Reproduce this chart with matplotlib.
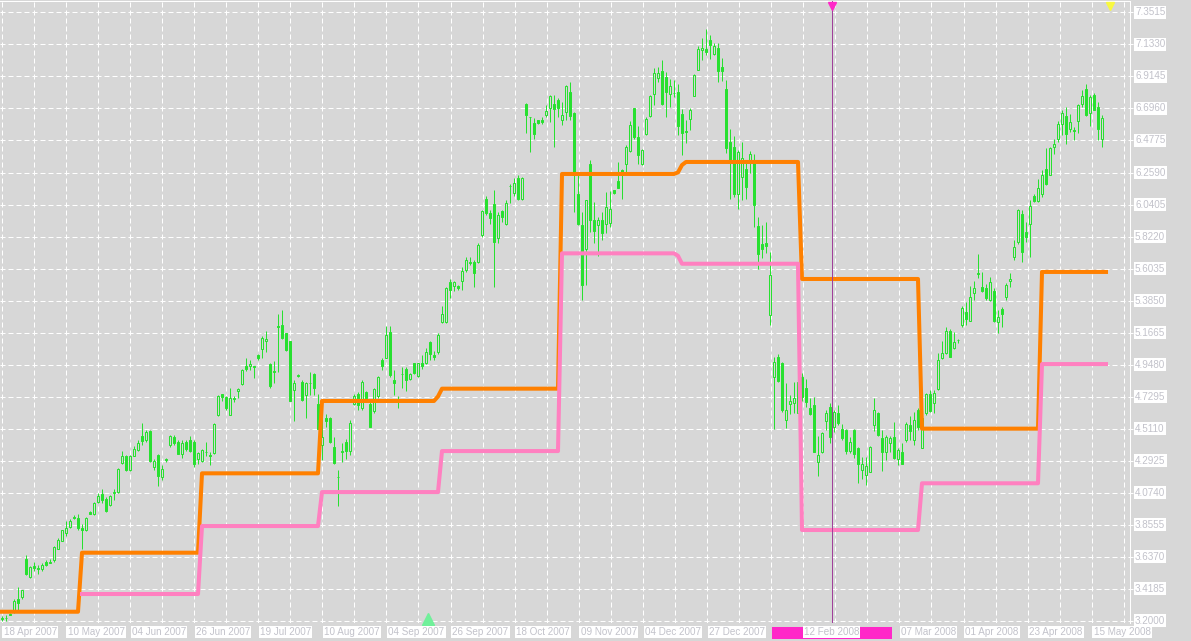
import numpy as np
import matplotlib.pyplot as plt
from matplotlib.transforms import blended_transform_factory
from matplotlib.patches import Rectangle

plt.rcParams['font.family'] = ['Liberation Sans', 'DejaVu Sans']

# daily candles, one per bar
opens = [3.21, 3.215, 3.245, 3.255, 3.345, 3.36, 3.62, 3.495, 3.57, 3.56,
         3.55, 3.60, 3.595, 3.61, 3.69, 3.746, 3.80, 3.84, 3.91, 3.90,
         3.83, 3.82, 3.94, 3.93, 4.01, 4.065, 4.03, 3.99, 4.07, 4.075,
         4.275, 4.32, 4.225, 4.325, 4.365, 4.463, 4.43, 4.497, 4.25, 4.33,
         4.18, 4.295, 4.395, 4.45, 4.42, 4.34, 4.42, 4.43, 4.42, 4.30,
         4.29, 4.35, 4.33, 4.345, 4.60, 4.745, 4.725, 4.60, 4.71, 4.77,
         4.815, 4.94, 4.94, 4.935, 5.01, 5.055, 5.11, 4.95, 4.90, 5.21,
         5.215, 5.16, 5.11, 4.773, 4.87, 4.83, 4.74, 4.82, 4.88, 4.68,
         4.395, 4.58, 4.58, 4.385, 4.18, 4.35, 4.42, 4.36, 4.68, 4.75,
         4.65, 4.76, 4.68, 4.63, 4.73, 4.98, 4.995, 5.17, 4.84, 4.70,
         4.88, 4.92, 4.85, 4.955, 4.87, 4.96, 4.96, 5.10, 5.015, 5.03,
         5.235, 5.24, 5.51, 5.485, 5.485, 5.52, 5.59, 5.64, 5.645, 5.65,
         5.83, 6.077, 5.98, 6.045, 5.81, 5.995, 5.905, 6.165, 6.12, 6.22,
         6.075, 6.73, 6.635, 6.60, 6.615, 6.62, 6.65, 6.70, 6.73, 6.757,
         6.617, 6.673, 6.81, 6.666, 6.11, 5.90, 5.74, 6.32, 5.938, 5.90,
         5.934, 5.906, 5.917, 6.138, 6.20, 6.275, 6.316, 6.405, 6.696, 6.498,
         6.32, 6.525, 6.646, 6.798, 6.907, 6.95, 6.91, 6.794, 6.80, 6.81,
         6.657, 6.54, 6.621, 6.782, 6.962, 7.097, 7.10, 7.163, 7.067, 7.112,
         6.976, 6.832, 6.468, 6.434, 6.115, 6.225, 6.28, 6.343, 6.343, 5.897,
         5.77, 5.78, 5.285, 4.86, 5.00, 4.96, 4.57, 4.681, 4.686, 4.618,
         4.863, 4.79, 4.652, 4.67, 4.284, 4.352, 4.561, 4.659, 4.518, 4.62,
         4.511, 4.50, 4.359, 4.50, 4.375, 4.231, 4.192, 4.215, 4.538, 4.614,
         4.443, 4.352, 4.409, 4.454, 4.30, 4.352, 4.431, 4.534, 4.431, 4.636,
         4.375, 4.618, 4.75, 4.682, 4.78, 4.993, 5.027, 5.177, 5.064, 5.112,
         5.221, 5.307, 5.246, 5.433, 5.567, 5.478, 5.467, 5.387, 5.45, 5.239,
         5.33, 5.41, 5.52, 5.679, 5.786, 5.975, 5.854, 5.904, 6.097, 6.066,
         6.109, 6.286, 6.245, 6.43, 6.49, 6.593, 6.644, 6.559, 6.548, 6.612,
         6.73, 6.826, 6.668, 6.787, 6.703, 6.491]
highs = [3.23, 3.235, 3.25, 3.345, 3.43, 3.41, 3.65, 3.57, 3.60, 3.58,
         3.59, 3.61, 3.62, 3.71, 3.76, 3.82, 3.88, 3.89, 3.92, 3.93,
         3.86, 3.91, 3.95, 4.01, 4.07, 4.10, 4.04, 4.06, 4.10, 4.24,
         4.36, 4.33, 4.33, 4.39, 4.43, 4.55, 4.50, 4.50, 4.30, 4.34,
         4.26, 4.31, 4.47, 4.47, 4.43, 4.43, 4.43, 4.46, 4.43, 4.35,
         4.37, 4.42, 4.35, 4.55, 4.74, 4.75, 4.73, 4.79, 4.73, 4.79,
         4.92, 4.99, 4.98, 4.94, 5.02, 5.145, 5.18, 4.96, 4.97, 5.29,
         5.32, 5.165, 5.11, 4.84, 4.885, 4.84, 4.83, 4.90, 4.89, 4.75,
         4.59, 4.61, 4.59, 4.45, 4.23, 4.41, 4.44, 4.57, 4.75, 4.76,
         4.84, 4.765, 4.69, 4.79, 4.87, 4.99, 5.21, 5.21, 4.91, 4.73,
         4.93, 4.93, 4.89, 4.96, 4.96, 5.01, 5.06, 5.11, 5.04, 5.16,
         5.35, 5.48, 5.53, 5.52, 5.49, 5.615, 5.685, 5.68, 5.66, 5.78,
         6.00, 6.10, 6.00, 6.14, 5.99, 6.00, 6.07, 6.18, 6.22, 6.24,
         6.23, 6.735, 6.64, 6.63, 6.62, 6.64, 6.72, 6.785, 6.785, 6.765,
         6.74, 6.855, 6.88, 6.67, 6.25, 5.99, 6.07, 6.344, 6.06, 5.956,
         5.99, 6.127, 6.134, 6.14, 6.33, 6.28, 6.45, 6.61, 6.70, 6.575,
         6.42, 6.64, 6.787, 6.97, 6.98, 7.026, 6.946, 6.90, 6.894, 6.866,
         6.69, 6.616, 6.70, 6.93, 7.12, 7.174, 7.24, 7.197, 7.144, 7.144,
         7.044, 6.89, 6.553, 6.507, 6.411, 6.468, 6.343, 6.407, 6.388, 5.956,
         5.90, 5.92, 5.717, 5.00, 5.023, 4.966, 4.82, 4.74, 4.83, 4.886,
         4.89, 4.85, 4.72, 4.727, 4.458, 4.488, 4.636, 4.682, 4.64, 4.67,
         4.545, 4.511, 4.454, 4.511, 4.386, 4.318, 4.318, 4.39, 4.716, 4.625,
         4.50, 4.466, 4.459, 4.556, 4.375, 4.413, 4.556, 4.596, 4.625, 4.648,
         4.59, 4.756, 4.773, 4.773, 5.027, 5.107, 5.205, 5.193, 5.17, 5.125,
         5.346, 5.375, 5.483, 5.52, 5.70, 5.58, 5.50, 5.546, 5.467, 5.319,
         5.342, 5.506, 5.57, 5.797, 6.013, 6.002, 5.922, 6.07, 6.115, 6.218,
         6.275, 6.423, 6.43, 6.49, 6.61, 6.685, 6.707, 6.657, 6.571, 6.73,
         6.82, 6.862, 6.787, 6.80, 6.742, 6.65]
lows = [3.20, 3.195, 3.235, 3.25, 3.26, 3.35, 3.51, 3.49, 3.54, 3.52,
        3.54, 3.575, 3.595, 3.60, 3.685, 3.74, 3.78, 3.83, 3.89, 3.82,
        3.69, 3.81, 3.925, 3.92, 4.00, 4.00, 3.94, 3.98, 4.02, 4.07,
        4.27, 4.22, 4.22, 4.32, 4.36, 4.395, 4.42, 4.28, 4.23, 4.12,
        4.16, 4.28, 4.385, 4.40, 4.335, 4.31, 4.36, 4.35, 4.25, 4.27,
        4.28, 4.32, 4.265, 4.34, 4.595, 4.70, 4.64, 4.60, 4.69, 4.72,
        4.81, 4.905, 4.91, 4.855, 4.98, 4.995, 5.03, 4.79, 4.82, 4.895,
        5.125, 5.04, 4.70, 4.565, 4.86, 4.70, 4.585, 4.74, 4.74, 4.51,
        4.295, 4.52, 4.41, 4.27, 3.985, 4.28, 4.30, 4.33, 4.67, 4.64,
        4.64, 4.71, 4.52, 4.62, 4.72, 4.91, 4.99, 4.86, 4.74, 4.65,
        4.79, 4.77, 4.84, 4.885, 4.86, 4.92, 4.95, 4.98, 4.98, 5.02,
        5.23, 5.23, 5.40, 5.45, 5.46, 5.46, 5.58, 5.63, 5.48, 5.64,
        5.82, 5.97, 5.91, 5.475, 5.78, 5.92, 5.90, 6.05, 6.10, 6.07,
        6.07, 6.53, 6.40, 6.485, 6.59, 6.59, 6.64, 6.605, 6.435, 6.64,
        6.58, 6.62, 6.62, 5.99, 5.90, 5.387, 5.49, 5.854, 5.78, 5.69,
        5.797, 5.843, 5.884, 6.11, 6.15, 6.075, 6.26, 6.40, 6.49, 6.316,
        6.31, 6.514, 6.64, 6.72, 6.88, 6.72, 6.635, 6.707, 6.776, 6.514,
        6.377, 6.46, 6.548, 6.78, 6.957, 7.026, 7.06, 7.037, 7.06, 6.878,
        6.885, 6.393, 6.08, 6.093, 6.013, 6.07, 6.077, 6.257, 5.888, 5.597,
        5.672, 5.706, 5.217, 4.511, 4.83, 4.625, 4.515, 4.61, 4.618, 4.618,
        4.70, 4.66, 4.602, 4.352, 4.186, 4.345, 4.50, 4.413, 4.488, 4.534,
        4.431, 4.34, 4.345, 4.313, 4.14, 4.163, 4.124, 4.215, 4.495, 4.459,
        4.22, 4.295, 4.352, 4.306, 4.26, 4.268, 4.42, 4.431, 4.397, 4.50,
        4.375, 4.602, 4.625, 4.618, 4.773, 4.988, 5.022, 5.00, 5.057, 5.095,
        5.205, 5.216, 5.246, 5.387, 5.54, 5.445, 5.387, 5.383, 5.239, 5.164,
        5.205, 5.387, 5.478, 5.66, 5.774, 5.648, 5.786, 5.683, 6.058, 6.058,
        6.093, 6.172, 6.24, 6.384, 6.468, 6.514, 6.452, 6.537, 6.48, 6.53,
        6.703, 6.644, 6.575, 6.685, 6.48, 6.434]
closes = [3.22, 3.215, 3.24, 3.335, 3.32, 3.405, 3.52, 3.564, 3.56, 3.55,
          3.58, 3.58, 3.60, 3.70, 3.75, 3.815, 3.83, 3.88, 3.90, 3.83,
          3.82, 3.90, 3.93, 4.00, 4.05, 4.025, 3.95, 4.05, 4.08, 4.235,
          4.325, 4.225, 4.325, 4.37, 4.415, 4.425, 4.49, 4.29, 4.29, 4.185,
          4.235, 4.30, 4.46, 4.41, 4.34, 4.415, 4.37, 4.36, 4.27, 4.345,
          4.365, 4.352, 4.325, 4.54, 4.735, 4.725, 4.65, 4.72, 4.72, 4.78,
          4.91, 4.92, 4.95, 4.93, 4.99, 5.13, 5.125, 4.80, 4.902, 5.205,
          5.13, 5.05, 4.70, 4.82, 4.875, 4.705, 4.82, 4.822, 4.785, 4.51,
          4.45, 4.56, 4.42, 4.275, 4.182, 4.355, 4.36, 4.55, 4.73, 4.67,
          4.83, 4.72, 4.52, 4.78, 4.865, 4.94, 5.15, 4.875, 4.82, 4.702,
          4.885, 4.84, 4.885, 4.89, 4.955, 4.94, 5.03, 5.02, 5.00, 5.15,
          5.29, 5.47, 5.455, 5.51, 5.47, 5.585, 5.66, 5.65, 5.575, 5.765,
          5.995, 5.985, 5.95, 5.785, 5.97, 5.955, 6.054, 6.167, 6.188, 6.075,
          6.22, 6.65, 6.637, 6.525, 6.595, 6.605, 6.68, 6.78, 6.69, 6.70,
          6.65, 6.848, 6.646, 6.264, 5.906, 5.49, 6.07, 5.934, 5.86, 5.938,
          5.847, 6.024, 6.013, 6.12, 6.154, 6.24, 6.434, 6.58, 6.503, 6.378,
          6.416, 6.623, 6.78, 6.935, 6.935, 6.73, 6.81, 6.848, 6.803, 6.575,
          6.53, 6.536, 6.685, 6.924, 7.099, 7.108, 7.08, 7.128, 7.122, 6.953,
          6.953, 6.427, 6.33, 6.11, 6.40, 6.355, 6.16, 6.384, 6.036, 5.70,
          5.74, 5.76, 5.558, 4.966, 4.837, 4.636, 4.64, 4.70, 4.716, 4.83,
          4.727, 4.693, 4.609, 4.352, 4.33, 4.477, 4.62, 4.454, 4.625, 4.55,
          4.443, 4.359, 4.42, 4.34, 4.268, 4.272, 4.254, 4.386, 4.636, 4.466,
          4.352, 4.454, 4.443, 4.31, 4.363, 4.272, 4.545, 4.495, 4.568, 4.522,
          4.586, 4.745, 4.63, 4.756, 4.982, 5.027, 5.177, 5.00, 5.102, 5.115,
          5.337, 5.262, 5.41, 5.467, 5.57, 5.449, 5.403, 5.512, 5.246, 5.273,
          5.296, 5.49, 5.535, 5.751, 6.002, 5.717, 5.82, 6.029, 6.063, 6.15,
          6.245, 6.18, 6.423, 6.457, 6.593, 6.662, 6.52, 6.605, 6.539, 6.719,
          6.78, 6.65, 6.776, 6.689, 6.553, 6.634]

# indicator step lines: bar where each level starts, and the level
orange_start = [0, 20, 50, 80, 109, 110, 140, 169, 170, 171, 200, 230, 260]
orange_level = [3.26, 3.663, 4.205, 4.699, 4.73, 4.783, 6.249, 6.26, 6.31, 6.331, 5.532, 4.51, 5.58]
pink_start = [20, 50, 80, 110, 140, 169, 170, 200, 230, 260]
pink_level = [3.381, 3.845, 4.077, 4.357, 5.707, 5.69, 5.636, 3.818, 4.137, 4.951]
line_end = 277

price_ticks = [3.2000, 3.4185, 3.6370, 3.8555, 4.0740, 4.2925, 4.5110, 4.7295, 4.9480, 5.1665,
               5.3850, 5.6035, 5.8220, 6.0405, 6.2590, 6.4775, 6.6960, 6.9145, 7.1330, 7.3515]
date_labels = ['18 Apr 2007', '10 May 2007', '04 Jun 2007', '26 Jun 2007', '19 Jul 2007',
               '10 Aug 2007', '04 Sep 2007', '26 Sep 2007', '18 Oct 2007', '09 Nov 2007',
               '04 Dec 2007', '27 Dec 2007', '', '', '07 Mar 2008', '01 Apr 2008',
               '23 Apr 2008', '15 May 2008']
vline_bar = 207.375
vline_label = '12 Feb 2008'
grid_step = 8.015  # bars between vertical grid lines

BG = '#d7d7d7'
GREEN = '#28e030'
ORANGE = '#ff8000'
PINK = '#ff80c0'
MAGENTA = '#ff28c8'
TXT = '#c2c2ca'
FS = 7.1

W, H = 1191, 641
fig = plt.figure(figsize=(W / 100, H / 100), dpi=100, facecolor=BG)
ax = fig.add_axes([0, 18 / H, 1130 / W, 622 / H])
ax.set_facecolor(BG)
ax.set_xlim(-0.5, 282)
ax.set_ylim(3.183, 7.43)

# grid
xgrid = [grid_step * j - 0.075 for j in range(36)]
ax.set_xticks(xgrid)
ax.set_yticks(price_ticks)
ax.grid(True, color='white', lw=0.72, linestyle=(0, (5, 3)), zorder=1)
ax.set_axisbelow(True)
ax.tick_params(axis='x', bottom=False, labelbottom=False)
ax.yaxis.set_ticks_position('right')
ax.tick_params(axis='y', length=2.2, width=0.72, color='white', labelright=False, labelleft=False)
for s in ['left', 'bottom']:
    ax.spines[s].set_visible(False)
for s in ['top', 'right']:
    ax.spines[s].set_color('white')
    ax.spines[s].set_linewidth(0.72)

# candles
o = np.array(opens)
h = np.array(highs)
l = np.array(lows)
c = np.array(closes)
x = np.arange(len(o))
bull = c >= o
ax.vlines(x, l, h, color=GREEN, lw=0.72, zorder=3)
ax.bar(x[bull], (c - o)[bull], bottom=o[bull], width=0.5, facecolor=BG,
       edgecolor=GREEN, lw=0.72, zorder=4)
ax.bar(x[~bull], (o - c)[~bull], bottom=c[~bull], width=0.5, facecolor=GREEN,
       edgecolor=GREEN, lw=0.72, zorder=4)

# step lines
def expand(starts, levels, end):
    bounds = list(starts[1:]) + [end]
    vals = np.repeat(levels, np.diff([starts[0]] + bounds))
    return np.arange(starts[0], end), vals

ox, oy = expand(orange_start, orange_level, line_end)
px_, py = expand(pink_start, pink_level, line_end)
ax.plot(ox, oy, color=ORANGE, lw=2.9, zorder=5)
ax.plot(px_, py, color=PINK, lw=2.9, zorder=6)

# vertical line and markers
ax.axvline(vline_bar, color='#a0409a', lw=0.72, zorder=7)
tr_xa = blended_transform_factory(ax.transData, ax.transAxes)
ax.plot([vline_bar], [0.992], marker='v', ms=6, color=MAGENTA, transform=tr_xa, clip_on=False, zorder=8)
ax.plot([276.9], [0.992], marker='v', ms=6, color='#f8f840', transform=tr_xa, clip_on=False, zorder=8)
ax.plot([106.5], [0.006], marker='^', ms=8, color='#70f09a', transform=tr_xa, clip_on=False, zorder=8)

# date labels under the chart
tr_xf = blended_transform_factory(ax.transData, fig.transFigure)
ylab = 1 - 632 / H
for k, lab in enumerate(date_labels):
    if lab:
        ax.text(xgrid[2 * k] + 0.45, ylab, lab, transform=tr_xf, ha='left', va='center',
                fontsize=FS, color=TXT, clip_on=False, zorder=10,
                bbox=dict(boxstyle='square,pad=0.12', fc='white', ec='none'))
ax.add_patch(Rectangle((vline_bar - 15, 1 - 639 / H), 30, 12 / H, transform=tr_xf,
                       facecolor=MAGENTA, edgecolor='none', clip_on=False, zorder=9))
ax.text(vline_bar, ylab, vline_label, transform=tr_xf, ha='center', va='center',
        fontsize=FS, color=TXT, clip_on=False, zorder=10,
        bbox=dict(boxstyle='square,pad=0.12', fc='white', ec='none'))

# price labels on the right
tr_fy = blended_transform_factory(fig.transFigure, ax.transData)
for p in price_ticks:
    ax.text(1135 / W, p, '%.4f' % p, transform=tr_fy, ha='left', va='center',
            fontsize=FS, color=TXT, clip_on=False, zorder=10,
            bbox=dict(boxstyle='square,pad=0.12', fc='white', ec='none'))

fig.savefig('out.png', dpi=100, facecolor=BG)
